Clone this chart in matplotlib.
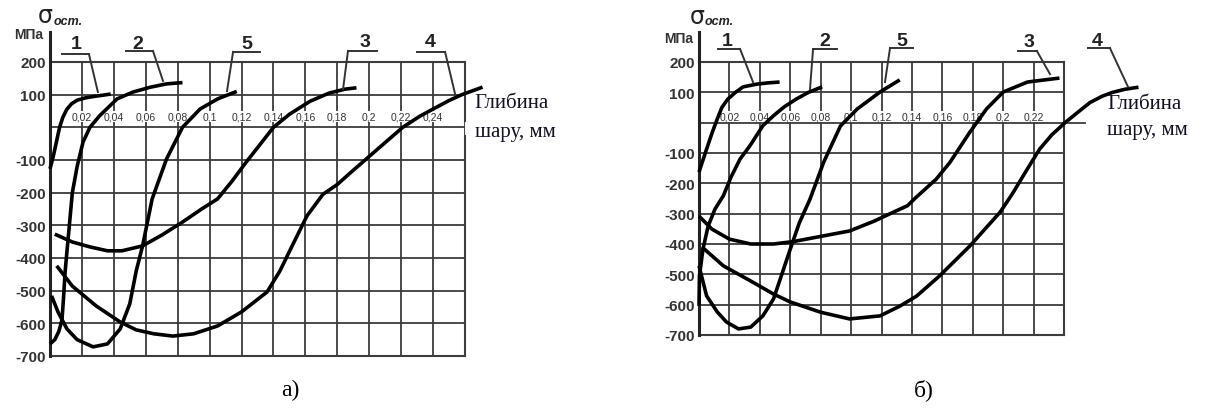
import matplotlib.pyplot as plt

W, H = 1220, 410

# ---- panel a) ----
a_c1_x = [0, 0.002, 0.004, 0.006, 0.008, 0.0105, 0.0135, 0.017, 0.022, 0.028, 0.034, 0.038]
a_c1_y = [-127, -90, -45, 0, 30, 55, 72, 83, 90, 95, 99, 102]
a_c2_x = [0, 0.003, 0.0055, 0.0075, 0.0085, 0.0095, 0.011, 0.0125, 0.014, 0.017, 0.0207, 0.025, 0.031, 0.042, 0.052, 0.063, 0.073, 0.083]
a_c2_y = [-663, -650, -625, -590, -520, -440, -360, -280, -200, -120, -45, 0, 35, 87, 108, 123, 133, 137]
a_c5_x = [0.001, 0.005, 0.0106, 0.017, 0.027, 0.036, 0.044, 0.05, 0.054, 0.058, 0.064, 0.073, 0.083, 0.094, 0.105, 0.117]
a_c5_y = [-516, -565, -617, -650, -672, -663, -617, -540, -440, -363, -219, -97, 0, 56, 87, 110]
a_c3_x = [0.003, 0.014, 0.025, 0.036, 0.045, 0.058, 0.07, 0.083, 0.095, 0.105, 0.114, 0.123, 0.132, 0.14, 0.15, 0.163, 0.175, 0.185, 0.192]
a_c3_y = [-327, -351, -366, -378, -378, -363, -330, -290, -250, -219, -165, -106, -50, 0, 40, 80, 105, 117, 121]
a_c4_x = [0.0042, 0.014, 0.029, 0.044, 0.054, 0.065, 0.077, 0.09, 0.105, 0.12, 0.136, 0.144, 0.152, 0.161, 0.171, 0.18, 0.188, 0.196, 0.208, 0.221, 0.232, 0.24, 0.25, 0.258, 0.271]
a_c4_y = [-424, -486, -547, -596, -620, -632, -639, -632, -608, -565, -504, -440, -360, -271, -205, -175, -140, -106, -55, 0, 35, 56, 82, 100, 123]

# ---- panel б) ----
b_c1_x = [0, 0.0025, 0.005, 0.0085, 0.012, 0.015, 0.019, 0.024, 0.029, 0.038, 0.045, 0.053]
b_c1_y = [-163, -125, -87, -35, 12, 50, 78, 100, 118, 127, 131, 134]
b_c2_x = [0, 0.0003, 0.0026, 0.006, 0.0105, 0.016, 0.021, 0.027, 0.0335, 0.042, 0.049, 0.056, 0.064, 0.072, 0.081]
b_c2_y = [-604, -505, -417, -341, -285, -241, -180, -120, -76, -10, 23, 52, 78, 100, 118]
b_c5_x = [0, 0.005, 0.012, 0.018, 0.026, 0.034, 0.042, 0.049, 0.055, 0.06, 0.066, 0.073, 0.082, 0.093, 0.104, 0.119, 0.132]
b_c5_y = [-472, -571, -624, -657, -680, -674, -637, -581, -492, -417, -330, -252, -130, -11, 45, 101, 141]
b_c3_x = [0, 0.0085, 0.02, 0.034, 0.049, 0.062, 0.08, 0.099, 0.115, 0.13, 0.137, 0.143, 0.156, 0.165, 0.178, 0.189, 0.2, 0.216, 0.237]
b_c3_y = [-308, -351, -384, -400, -400, -392, -375, -357, -325, -290, -274, -245, -186, -131, -32, 45, 101, 134, 147]
b_c4_x = [0.002, 0.016, 0.034, 0.049, 0.06, 0.08, 0.099, 0.119, 0.132, 0.143, 0.158, 0.178, 0.198, 0.206, 0.215, 0.224, 0.232, 0.2407, 0.25, 0.257, 0.265, 0.272, 0.28, 0.289]
b_c4_y = [-410, -472, -522, -565, -591, -625, -647, -637, -605, -572, -506, -407, -295, -235, -160, -87, -40, 0, 38, 66, 87, 100, 110, 117]

y_ticks = [-700, -600, -500, -400, -300, -200, -100, 0, 100, 200]
y_labels = ['-700', '-600', '-500', '-400', '-300', '-200', '-100', '', '100', '200']
a_x_ticks = [0, 0.02, 0.04, 0.06, 0.08, 0.1, 0.12, 0.14, 0.16, 0.18, 0.2, 0.22, 0.24, 0.26]
b_x_ticks = [0, 0.02, 0.04, 0.06, 0.08, 0.1, 0.12, 0.14, 0.16, 0.18, 0.2, 0.22, 0.24]
a_x_labels = ['0,02', '0,04', '0,06', '0,08', '0,1', '0,12', '0,14', '0,16', '0,18', '0,2', '0,22', '0,24']
b_x_labels = ['0,02', '0,04', '0,06', '0,08', '0,1', '0,12', '0,14', '0,16', '0,18', '0,2', '0,22']

# curve labels: name, text pos, underline x-range, underline y, leader (start x, end x, end y)
a_leaders = [('1', (0.0163, 258), (0.0075, 0.0244), 224, (0.0244, 0.030, 108)),
             ('2', (0.0551, 258), (0.0476, 0.0645), 234, (0.0645, 0.0708, 142)),
             ('5', (0.1234, 258), (0.1147, 0.1316), 231, (0.1147, 0.1109, 111)),
             ('3', (0.1974, 262), (0.1867, 0.2049), 234, (0.1867, 0.1836, 117)),
             ('4', (0.2381, 262), (0.2300, 0.2475), 231, (0.2475, 0.2538, 102))]
b_leaders = [('1', (0.0184, 272), (0.0125, 0.0270), 243, (0.0270, 0.0355, 134)),
             ('2', (0.0828, 272), (0.0750, 0.0907), 243, (0.0750, 0.0730, 111)),
             ('5', (0.1335, 272), (0.1256, 0.1407), 246, (0.1256, 0.1223, 134)),
             ('3', (0.2170, 268), (0.2097, 0.2222), 236, (0.2222, 0.2308, 160)),
             ('4', (0.2617, 272), (0.2558, 0.2702), 246, (0.2702, 0.2821, 118))]

grid_c = '#3c3c3c'
lab_c = '#333333'


def panel(rect, xmax, xticks, xlabels, lab_y, curves, leaders, ytop, sig_pos, mpa_pos, right_gap):
    ax = fig.add_axes(rect)
    ax.set_xlim(0, xmax)
    ax.set_ylim(-700, 200)
    ax.set_xticks(xticks)
    ax.set_yticks(y_ticks)
    ax.set_xticklabels([])
    ax.set_yticklabels(y_labels, fontsize=11, fontweight='bold', color=lab_c, family='Liberation Sans')
    ax.tick_params(length=0, pad=3)
    ax.grid(True, color=grid_c, lw=1.3)
    for s in ax.spines.values():
        s.set_color(grid_c)
        s.set_linewidth(1.5)
    ax.spines['left'].set_visible(False)
    ax.plot([0, 0], [-700, ytop], color='#222222', lw=2.2, clip_on=False, zorder=5)
    if right_gap:
        ax.spines['right'].set_visible(False)
        ax.plot([xmax, xmax], [200, 20], color=grid_c, lw=1.5, clip_on=False)
        ax.plot([xmax, xmax], [-25, -700], color=grid_c, lw=1.5, clip_on=False)
    for x, lbl in zip(xticks[1:], xlabels):
        ax.text(x, lab_y, lbl, fontsize=7.5, color=lab_c, ha='center', va='center', family='Liberation Sans',
                bbox=dict(facecolor='white', edgecolor='none', pad=0.3), zorder=3)
    for cx, cy in curves:
        ax.plot(cx, cy, color='black', lw=2.6, clip_on=False, zorder=6, solid_capstyle='butt')
    for name, tpos, (u0, u1), uy, (sx, ex, ey) in leaders:
        ax.text(tpos[0], tpos[1], name, fontsize=14, fontweight='bold', color='#222222',
                ha='center', va='center', family='Liberation Sans')
        ax.plot([u0, u1], [uy, uy], color='#333333', lw=1.4, clip_on=False)
        ax.plot([sx, ex], [uy, ey], color='#333333', lw=1.4, clip_on=False, zorder=7)
    ax.text(sig_pos[0], sig_pos[1], 'σ', fontsize=17, color='#222222', ha='left', va='center',
            family='DejaVu Sans')
    ax.text(sig_pos[0] + sig_pos[2], sig_pos[1] - 18, 'ост.', fontsize=9, fontweight='bold', style='italic',
            color='#222222', ha='left', va='center', family='Liberation Sans')
    ax.text(mpa_pos[0], mpa_pos[1], 'МПа', fontsize=10, fontweight='bold', color=lab_c,
            ha='right', va='center', family='Liberation Sans')
    return ax


fig = plt.figure(figsize=(W / 100, H / 100), dpi=100)

ax1 = panel([50 / W, 1 - 357 / H, 415 / W, 294 / H], 0.26, a_x_ticks, a_x_labels, 32,
            [(a_c1_x, a_c1_y), (a_c2_x, a_c2_y), (a_c5_x, a_c5_y), (a_c3_x, a_c3_y), (a_c4_x, a_c4_y)],
            a_leaders, 292, (-0.0075, 345, 0.0095), (-0.004, 286), True)
ax1.text(0.266, 76, 'Глибина', fontsize=15, family='Liberation Serif', color='#111122', va='center', ha='left')
ax1.text(0.266, -14, 'шару, мм', fontsize=15, family='Liberation Serif', color='#111122', va='center', ha='left')

ax2 = panel([699 / W, 1 - 336 / H, 365 / W, 273 / H], 0.24, b_x_ticks, b_x_labels, 19,
            [(b_c1_x, b_c1_y), (b_c2_x, b_c2_y), (b_c5_x, b_c5_y), (b_c3_x, b_c3_y), (b_c4_x, b_c4_y)],
            b_leaders, 299, (-0.006, 352, 0.0098), (-0.004, 279), False)
ax2.plot([0.24, 0.254], [0, 0], color=grid_c, lw=1.3, clip_on=False)
ax2.text(0.2685, 63, 'Глибина', fontsize=15, family='Liberation Serif', color='#111122', va='center', ha='left')
ax2.text(0.2685, -23, 'шару, мм', fontsize=15, family='Liberation Serif', color='#111122', va='center', ha='left')

fig.text(290 / W, 1 - 390 / H, 'а)', fontsize=17, family='Liberation Serif', ha='center', va='center')
fig.text(924 / W, 1 - 390 / H, 'б)', fontsize=17, family='Liberation Serif', ha='center', va='center')

fig.savefig('out.png', dpi=100)
